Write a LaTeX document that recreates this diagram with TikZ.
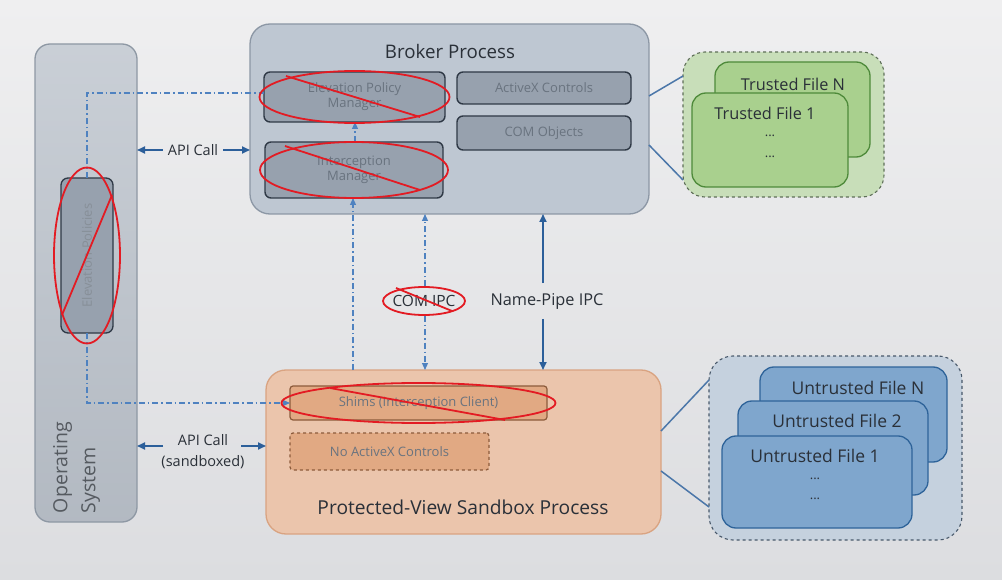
\documentclass[tikz,border=0pt]{standalone}
\usepackage{fontspec}
\setmainfont{Open Sans}
\usetikzlibrary{arrows.meta,calc}
\definecolor{bgtop}{HTML}{EFEFF0}
\definecolor{bgbot}{HTML}{DCDDE0}
\definecolor{osfill}{HTML}{BCC3CC}
\definecolor{osdraw}{HTML}{8E98A4}
\definecolor{innerfill}{HTML}{97A1AE}
\definecolor{innerdraw}{HTML}{2F3946}
\definecolor{brfill}{HTML}{BEC7D2}
\definecolor{brdraw}{HTML}{8C97A5}
\definecolor{sbfill}{HTML}{EBC5AC}
\definecolor{sbdraw}{HTML}{D9A381}
\definecolor{shfill}{HTML}{E1A983}
\definecolor{shdraw}{HTML}{8C5B3B}
\definecolor{trgrp}{HTML}{C8DEB9}
\definecolor{trgrpdraw}{HTML}{5E6E58}
\definecolor{trfill}{HTML}{A9D08E}
\definecolor{trdraw}{HTML}{4E8A3A}
\definecolor{ungrp}{HTML}{C5D1DE}
\definecolor{ungrpdraw}{HTML}{48586A}
\definecolor{unfill}{HTML}{7FA6CD}
\definecolor{undraw}{HTML}{2E6399}
\definecolor{arrblue}{HTML}{2C5F9A}
\definecolor{ddblue}{HTML}{4F82C0}
\definecolor{xred}{HTML}{E31B23}
\definecolor{fadetxt}{HTML}{69737F}
\definecolor{darktxt}{HTML}{2A3038}
\tikzset{
  every node/.style={inner sep=0pt, outer sep=0pt},
  innerbox/.style={draw=innerdraw, line width=1.4pt, fill=innerfill, rounded corners=6pt, text=fadetxt, align=center, font=\fontsize{13}{15}\selectfont},
  shimbox/.style={draw=shdraw, line width=1.2pt, fill=shfill, rounded corners=3pt, text=fadetxt, align=center, font=\fontsize{13}{15}\selectfont},
  trfile/.style={draw=trdraw, line width=1.3pt, fill=trfill, rounded corners=14pt},
  unfile/.style={draw=undraw, line width=1.3pt, fill=unfill, rounded corners=14pt},
  blarrow/.style={draw=arrblue, line width=1.8pt, -{Triangle[length=8pt,width=7pt]}},
  ddline/.style={draw=ddblue, line width=1.1pt, dash pattern=on 6pt off 3pt on 1.5pt off 3pt},
  ddarrow/.style={ddline, -{Triangle[length=7pt,width=6pt]}},
  conn/.style={draw=arrblue!85, line width=1.5pt},
  redx/.style={draw=xred, line width=1.8pt},
  lbl/.style={text=darktxt}
}
\begin{document}
\begin{tikzpicture}[x=1pt,y=-1pt]
\useasboundingbox (0,0) rectangle (1002,580);
\shade[top color=bgtop, bottom color=bgbot] (0,0) rectangle (1002,580);

% Operating system
\node[draw=osdraw, line width=1.3pt, top color=osfill!80!white, bottom color=osfill!95!black, rounded corners=15pt, minimum width=102pt, minimum height=478pt, anchor=north west] (os) at (35,44) {};
\node[rotate=90, anchor=north west, align=left, text=darktxt!80!white, font=\fontsize{19.5}{28}\selectfont] (ostxt) at (53,513) {Operating\\System};
\node[draw=innerdraw, line width=1.3pt, fill=innerfill, rounded corners=7pt, minimum width=52pt, minimum height=155pt, anchor=north west] (ep) at (61,178) {};
\node[rotate=90, text=fadetxt!80!white, font=\fontsize{13}{15}\selectfont] (eptxt) at (ep.center) {Elevation Policies};

% Broker process
\node[draw=brdraw, line width=1.3pt, fill=brfill, rounded corners=20pt, minimum width=399pt, minimum height=190pt, anchor=north west] (br) at (250,24) {};
\node[lbl, font=\fontsize{18.7}{20}\selectfont] (brtitle) at (450,51) {Broker Process};
\node[innerbox, minimum width=181pt, minimum height=50pt, anchor=north west] (epm) at (264,72) {Elevation Policy\\Manager};
\node[innerbox, minimum width=178pt, minimum height=56pt, anchor=north west] (im) at (265,142) {Interception\\Manager};
\node[innerbox, minimum width=174pt, minimum height=32pt, anchor=north west] (ax) at (457,72) {ActiveX Controls};
\node[innerbox, minimum width=174pt, minimum height=34pt, anchor=north west] (com) at (457,116) {COM Objects};

% Sandbox process
\node[draw=sbdraw, line width=1.3pt, fill=sbfill, rounded corners=20pt, minimum width=395pt, minimum height=164pt, anchor=north west] (sb) at (266,370) {};
\node[lbl, font=\fontsize{19.2}{21}\selectfont] (sbtitle) at (463,507) {Protected-View Sandbox Process};
\node[shimbox, minimum width=257pt, minimum height=34pt, anchor=north west] (sh) at (290,386) {Shims (Interception Client)};
\node[shimbox, dashed, minimum width=199pt, minimum height=37pt, anchor=north west] (nax) at (290,433) {No ActiveX Controls};

% Trusted files
\node[draw=trgrpdraw, line width=1.1pt, dashed, fill=trgrp, rounded corners=22pt, minimum width=201pt, minimum height=145pt, anchor=north west] (trg) at (683,52) {};
\node[trfile, minimum width=155pt, minimum height=95pt, anchor=north west] (trn) at (715,62) {};
\node[lbl, font=\fontsize{16.3}{18}\selectfont] at (793,84) {Trusted File N};
\node[trfile, minimum width=156pt, minimum height=94pt, anchor=north west] (tr1) at (692,93) {};
\node[lbl, font=\fontsize{16.3}{18}\selectfont] at (765,113) {Trusted File 1};
\node[lbl, font=\fontsize{13}{14}\selectfont] at (770,136) {...};
\node[lbl, font=\fontsize{13}{14}\selectfont] at (770,157) {...};

% Untrusted files
\node[draw=ungrpdraw, line width=1.1pt, dashed, fill=ungrp, rounded corners=24pt, minimum width=253pt, minimum height=184pt, anchor=north west] (ung) at (709,356) {};
\node[unfile, minimum width=187pt, minimum height=95pt, anchor=north west] (unn) at (760,367) {};
\node[lbl, font=\fontsize{17.5}{19}\selectfont] at (858,388) {Untrusted File N};
\node[unfile, minimum width=190pt, minimum height=94pt, anchor=north west] (un2) at (738,401) {};
\node[lbl, font=\fontsize{17.5}{19}\selectfont] at (837,421) {Untrusted File 2};
\node[unfile, minimum width=190pt, minimum height=92pt, anchor=north west] (un1) at (722,436) {};
\node[lbl, font=\fontsize{17.5}{19}\selectfont] at (815,456) {Untrusted File 1};
\node[lbl, font=\fontsize{13}{14}\selectfont] at (815,479) {...};
\node[lbl, font=\fontsize{13}{14}\selectfont] at (815,499) {...};

% connectors to file groups
\draw[conn] ($(br.north east)+(0,72)$) -- ($(trg.north west)+(0,24)$);
\draw[conn] ($(br.north east)+(0,121)$) -- ($(trg.north west)+(0,128)$);
\draw[conn] ($(sb.north east)+(0,61)$) -- ($(ung.north west)+(0,24)$);
\draw[conn] ($(sb.north east)+(0,101)$) -- ($(ung.north west)+(0,151)$);

% API calls
\node[lbl, font=\fontsize{14.5}{16}\selectfont] (api) at (193,150) {API Call};
\draw[blarrow] ([xshift=-5pt]api.west) -- (api.west -| os.east);
\draw[blarrow] ([xshift=5pt]api.east) -- (api.east -| br.west);
\node[lbl, font=\fontsize{14.5}{21}\selectfont, align=center] (apis) at (203,452) {API Call\\(sandboxed)};
\coordinate (apiy) at (0,446);
\draw[blarrow] (apiy -| 163,0) -- (apiy -| os.east);
\draw[blarrow] (apiy -| 241,0) -- (apiy -| sb.west);

% dash-dot elevation path
\coordinate (c1) at (87,93);
\coordinate (c2) at (87,403);
\draw[ddline] (ep.north) -- (c1) -- (c1 -| epm.west);
\draw[ddarrow] (ep.south) -- (c2) -- (c2 -| sh.west);

% interception arrows
\coordinate (xa) at (353,0);
\coordinate (xb) at (355,0);
\draw[ddarrow] (xa |- sb.north) -- (xa |- im.south);
\draw[ddarrow] (xb |- im.north) -- (xb |- epm.south);

% COM IPC
\node[lbl, font=\fontsize{15.5}{17}\selectfont] (comipc) at (424,301) {COM IPC};
\coordinate (xc) at (425,0);
\draw[ddarrow] (xc |- comipc.north) ++(0,-9) -- (xc |- br.south);
\draw[ddarrow] (xc |- comipc.south) ++(0,9) -- (xc |- sb.north);

% Name pipe IPC
\node[lbl, font=\fontsize{16.3}{18}\selectfont] (npipe) at (547,301) {Name-Pipe IPC};
\coordinate (xd) at (543,0);
\draw[blarrow] (xd |- npipe.north) ++(0,-10) -- (xd |- br.south);
\draw[blarrow] (xd |- npipe.south) ++(0,10) -- (xd |- sb.north);

% red cross-outs
\draw[redx] (ep.center) ellipse[x radius=33pt, y radius=88pt];
\draw[redx] ($(ep.south west)+(1,-18)$) -- ($(ep.north east)+(-1,17)$);
\draw[redx] (epm.center) ellipse[x radius=95pt, y radius=26pt];
\draw[redx] (286,76) -- (420,117);
\draw[redx] (im.center) ellipse[x radius=94pt, y radius=28pt];
\draw[redx] (285,146) -- (420,190);
\draw[redx] (sh.center) ellipse[x radius=137pt, y radius=20pt];
\draw[redx] (330,388) -- (505,420);
\draw[redx] (comipc.center) ellipse[x radius=41pt, y radius=14pt];
\draw[redx] (396,288) -- (452,311);
\end{tikzpicture}
\end{document}
